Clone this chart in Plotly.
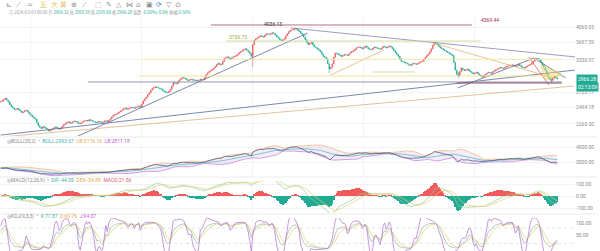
import numpy as np
import pandas as pd
import plotly.graph_objects as go

# ---------------- data ----------------
closes = [
    2590, 2600, 2625, 2640, 2610, 2585, 2540, 2510, 2490, 2470, 2465, 2480, 2460, 2445, 2420, 2430, 2450, 2455, 2430, 2400,
    2385, 2360, 2345, 2330, 2280, 2240, 2215, 2200, 2225, 2215, 2200, 2190, 2165, 2175, 2190, 2200, 2220, 2215, 2200, 2190,
    2205, 2230, 2250, 2265, 2280, 2290, 2270, 2275, 2290, 2300, 2295, 2280, 2265, 2270, 2285, 2295, 2305, 2310, 2300, 2320,
    2310, 2300, 2290, 2285, 2280, 2295, 2290, 2280, 2285, 2300, 2305, 2290, 2310, 2330, 2360, 2380, 2390, 2400, 2415, 2430,
    2445, 2460, 2480, 2490, 2470, 2475, 2490, 2500, 2495, 2485, 2500, 2510, 2520, 2500, 2550, 2600, 2630, 2660, 2700, 2730,
    2770, 2800, 2820, 2830, 2815, 2810, 2800, 2790, 2760, 2750, 2735, 2730, 2750, 2780, 2840, 2900, 2890, 2880, 2910, 2950,
    2975, 2990, 2985, 2970, 2950, 2940, 2955, 2960, 2945, 2950, 2940, 2930, 2945, 2960, 2950, 2955, 3000, 3050, 3080, 3110,
    3125, 3140, 3170, 3200, 3240, 3260, 3230, 3240, 3300, 3360, 3380, 3390, 3360, 3340, 3370, 3390, 3400, 3420, 3450, 3480,
    3500, 3520, 3545, 3560, 3530, 3500, 3460, 3400, 3650, 3750, 3780, 3800, 3830, 3850, 3835, 3820, 3860, 3900, 3890, 3880,
    3900, 3920, 3895, 3870, 3830, 3800, 3760, 3740, 3755, 3780, 3850, 3900, 3950, 3980, 3990, 4000, 4020, 4010, 3980, 3950,
    3910, 3880, 3820, 3760, 3700, 3650, 3680, 3700, 3650, 3600, 3580, 3560, 3530, 3500, 3450, 3400, 3380, 3350, 3250, 3150,
    3180, 3250, 3380, 3470, 3460, 3440, 3420, 3400, 3420, 3440, 3430, 3420, 3450, 3480, 3500, 3520, 3550, 3580, 3590, 3600,
    3580, 3560, 3590, 3620, 3590, 3560, 3545, 3540, 3570, 3600, 3585, 3570, 3560, 3550, 3580, 3610, 3600, 3580, 3600, 3620,
    3600, 3560, 3520, 3480, 3440, 3400, 3350, 3300, 3290, 3280, 3265, 3250, 3230, 3220, 3245, 3260, 3250, 3240, 3260, 3280,
    3290, 3300, 3340, 3380, 3420, 3450, 3500, 3560, 3640, 3700, 3680, 3650, 3610, 3580, 3560, 3540, 3520, 3500, 3480, 3460,
    3440, 3420, 3280, 3130, 3050, 3020, 3100, 3170, 3140, 3120, 3135, 3150, 3120, 3100, 3080, 3060, 3075, 3090, 3060, 3040,
    3020, 3000, 3030, 3050, 3075, 3090, 3080, 3070, 3100, 3120, 3135, 3150, 3165, 3180, 3170, 3160, 3180, 3200, 3210, 3220,
    3225, 3230, 3215, 3200, 3220, 3240, 3215, 3190, 3180, 3170, 3190, 3210, 3225, 3240, 3270, 3300, 3330, 3360, 3350, 3330,
    3280, 3230, 3180, 3120, 3050, 2990, 2960, 2940, 2980, 3010, 2990, 2966.28,
]
first_open = 2580.0
wick_idx = [168, 196, 219, 289, 305, 367]
wick_high = [3650, 4036.13, 3250, 3707, 3100, 2980]
wick_low = [3189, 3980, 3076, 3640, 2984, 2895]

main_ticks = [2260.30, 2494.18, 2732.17, 3330.97, 3697.59, 4060.05]
main_ticktext = ["2260.30", "2494.18", "2732.17", "3330.97", "3697.59", "4060.05"]
last_price = 2966.28
countdown = "02:13:09"

# drawn trend lines (candle index, price)
trend_x0 = [0, 0, 50, 193.4, 288.6, 220, 304.6, 355.4, 352]
trend_p0 = [2114, 2089, 2089, 4036, 3685, 3039, 2809, 3367, 3387]
trend_x1 = [383.4, 382, 204.6, 383.4, 368.6, 255.4, 355.4, 376.6, 365.4]
trend_p1 = [3132, 2842, 3915, 3387, 2984, 3533, 3367, 2984, 2860]
# horizontal levels
level_price = [4110, 3730, 3340, 3021, 2913, 2895, 3094]
level_x0 = [140, 150, 94, 92, 58, 304, 248]
level_x1 = [314, 320, 374, 374, 374, 374, 276]
# shaded triangle
tri_x = [360, 374, 363, 360]
tri_p = [3228, 3057, 2948, 3228]

# ---------------- derived OHLC / indicators ----------------
n = len(closes)
idx = np.arange(n)
c = pd.Series(closes, dtype=float)
o = c.shift(1).fillna(first_open)
h = pd.concat([o, c], axis=1).max(axis=1)
l = pd.concat([o, c], axis=1).min(axis=1)
for i, hh, ll in zip(wick_idx, wick_high, wick_low):
    h[i] = max(h[i], hh)
    l[i] = min(l[i], ll)

mid = c.rolling(20, min_periods=1).mean()
sd = c.rolling(20, min_periods=1).std(ddof=0).fillna(0)
ub = mid + 2 * sd
lb = mid - 2 * sd

ema12 = c.ewm(span=12, adjust=False).mean()
ema26 = c.ewm(span=26, adjust=False).mean()
dif = ema12 - ema26
dea = dif.ewm(span=9, adjust=False).mean()
hist = 2 * (dif - dea)

ll9 = l.rolling(9, min_periods=1).min()
hh9 = h.rolling(9, min_periods=1).max()
rsv = ((c - ll9) / (hh9 - ll9).replace(0, np.nan) * 100).fillna(50)
K = []; D = []
kp, dp = 50.0, 50.0
for r in rsv:
    kp = 2 / 3 * kp + r / 3
    dp = 2 / 3 * dp + kp / 3
    K.append(kp); D.append(dp)
K = np.array(K); D = np.array(D); J = 3 * K - 2 * D

# ---------------- figure ----------------
W, H = 600, 251
def py(px):
    return 1 - px / H

RED = "#ef5a5a"
GRN = "#22ab94"
fig = go.Figure()

fig.add_trace(go.Candlestick(
    x=idx, open=o, high=h, low=l, close=c,
    increasing=dict(line=dict(color=RED, width=0.6), fillcolor=RED),
    decreasing=dict(line=dict(color=GRN, width=0.6), fillcolor=GRN),
    xaxis="x", yaxis="y", showlegend=False, hoverinfo="skip"))

trend_colors = ["#5b6a9a", "#d9b482", "#5b6a9a", "#8088a8", "#e2b37a",
                "#e2b37a", "#5b6a9a", "#5b6a9a", "#e05a5a"]
for x0, p0, x1, p1, col in zip(trend_x0, trend_p0, trend_x1, trend_p1, trend_colors):
    fig.add_trace(go.Scatter(x=[x0, x1], y=[p0, p1], mode="lines",
                             line=dict(color=col, width=0.8),
                             xaxis="x", yaxis="y", showlegend=False, hoverinfo="skip"))
level_colors = ["#b0607a", "#c8d890", "#f3e6a0", "#efe08a", "#8a8aa0", "#7a3a5a", "#bfdcb0"]
for p, x0, x1, col in zip(level_price, level_x0, level_x1, level_colors):
    fig.add_trace(go.Scatter(x=[x0, x1], y=[p, p], mode="lines",
                             line=dict(color=col, width=0.9),
                             xaxis="x", yaxis="y", showlegend=False, hoverinfo="skip"))
fig.add_trace(go.Scatter(x=tri_x, y=tri_p, mode="lines", fill="toself",
                         fillcolor="rgba(240,215,110,0.45)", line=dict(color="#e8c860", width=0.6),
                         xaxis="x", yaxis="y", showlegend=False, hoverinfo="skip"))

# BOLL pane
fig.add_trace(go.Scatter(x=idx, y=ub, mode="lines", line=dict(color="#f0b36a", width=0.7),
                         xaxis="x2", yaxis="y2", showlegend=False, hoverinfo="skip"))
fig.add_trace(go.Scatter(x=idx, y=lb, mode="lines", line=dict(color="#c27ad8", width=0.7),
                         fill="tonexty", fillcolor="rgba(200,150,225,0.18)",
                         xaxis="x2", yaxis="y2", showlegend=False, hoverinfo="skip"))
fig.add_trace(go.Scatter(x=idx, y=mid, mode="lines", line=dict(color="#4fb3b0", width=0.7),
                         xaxis="x2", yaxis="y2", showlegend=False, hoverinfo="skip"))
fig.add_trace(go.Scatter(x=idx, y=c, mode="lines", line=dict(color="#3a4a7a", width=0.7),
                         xaxis="x2", yaxis="y2", showlegend=False, hoverinfo="skip"))

# MACD pane
fig.add_trace(go.Bar(x=idx, y=hist, marker=dict(color=[RED if v >= 0 else GRN for v in hist], line=dict(width=0)),
                     width=1.0, xaxis="x3", yaxis="y3", showlegend=False, hoverinfo="skip"))
fig.add_trace(go.Scatter(x=idx, y=dif, mode="lines", line=dict(color="#8fcf9a", width=0.7),
                         xaxis="x3", yaxis="y3", showlegend=False, hoverinfo="skip"))
fig.add_trace(go.Scatter(x=idx, y=dea, mode="lines", line=dict(color="#e8cf6a", width=0.7),
                         xaxis="x3", yaxis="y3", showlegend=False, hoverinfo="skip"))

# KDJ pane
fig.add_trace(go.Scatter(x=idx, y=K, mode="lines", line=dict(color="#8fb8a8", width=0.7),
                         xaxis="x4", yaxis="y4", showlegend=False, hoverinfo="skip"))
fig.add_trace(go.Scatter(x=idx, y=D, mode="lines", line=dict(color="#e8d070", width=0.7),
                         xaxis="x4", yaxis="y4", showlegend=False, hoverinfo="skip"))
fig.add_trace(go.Scatter(x=idx, y=J, mode="lines", line=dict(color="#b06ac8", width=0.7),
                         xaxis="x4", yaxis="y4", showlegend=False, hoverinfo="skip"))

xr = [-0.5, 382.8]
gridc = "#f3f3f3"
tickf = dict(size=5, color="#8a8a8a", family="Roboto")
def xax(anchor):
    return dict(range=xr, showticklabels=False, showgrid=True, gridcolor=gridc, gridwidth=0.5,
                dtick=74, tick0=20, zeroline=False, showline=False, anchor=anchor,
                domain=[0, 1], rangeslider=dict(visible=False), fixedrange=True)

lt, lb_ = np.log10(4060.05) + 10 * 0.002623, np.log10(4060.05) - 109 * 0.002623
fig.update_layout(
    width=W, height=H, margin=dict(l=0, r=25, t=0, b=0),
    paper_bgcolor="white", plot_bgcolor="white",
    bargap=0,
    xaxis=xax("y"), xaxis2=xax("y2"), xaxis3=xax("y3"), xaxis4=xax("y4"),
    yaxis=dict(type="log", range=[lb_, lt], domain=[py(136), py(17)], side="right",
               tickvals=main_ticks, ticktext=main_ticktext, tickfont=tickf,
               showgrid=True, gridcolor=gridc, gridwidth=0.5, zeroline=False, ticks="", anchor="x"),
    yaxis2=dict(range=[3000 - (176 - 162) * 66.67, 3000 + (162 - 143) * 66.67],
                domain=[py(176), py(143)], side="right", tickvals=[3000, 4000],
                ticktext=["3000.00", "4000.00"], tickfont=tickf, showgrid=True, gridcolor=gridc,
                zeroline=False, anchor="x2"),
    yaxis3=dict(range=[-100 - (213 - 208) * 8.33, 100 + (184 - 181) * 8.33],
                domain=[py(213), py(181)], side="right", tickvals=[-100, 0, 100],
                ticktext=["-100.00", "0.00", "100.00"], tickfont=tickf, showgrid=True, gridcolor=gridc,
                zeroline=False, anchor="x3"),
    yaxis4=dict(range=[-10, 119.7], domain=[0, py(218)], side="right", tickvals=[0, 50, 100],
                ticktext=["0.00", "50.00", "100.00"], tickfont=tickf, showgrid=False,
                zeroline=False, anchor="x4"),
    showlegend=False,
)

shapes = []
for ypx in [137, 177, 214]:
    shapes.append(dict(type="line", xref="paper", yref="paper", x0=0, x1=1.04, y0=py(ypx), y1=py(ypx),
                       line=dict(color="#e6e6e6", width=0.8)))
for lv in [20, 80]:
    shapes.append(dict(type="line", xref="x4", yref="y4", x0=xr[0], x1=xr[1], y0=lv, y1=lv,
                       line=dict(color="#cfcfcf", width=0.6, dash="dot")))
fig.update_layout(shapes=shapes)

ann = []
def A(x, y, text, **kw):
    d = dict(x=x, y=y, text=text, showarrow=False, font=dict(size=5, color="#8a8a8a", family="Roboto"),
             xanchor="left", yanchor="middle")
    d.update(kw)
    ann.append(d)

# toolbar glyphs
glyphs = [("⊾", "#8a8a8a"), ("⟋", "#8a8a8a"), ("═", "#8a8a8a"), ("五", "#e0b84a"), ("大", "#e0b84a"),
          ("算", "#e0b84a"), ("⊕", "#8a8a8a"), ("⟋", "#8a8a8a"), ("⬚", "#8a8a8a"), ("✎", "#8a8a8a"),
          ("△", "#8a8a8a"), ("⋈", "#8a8a8a"), ("⌂", "#8a8a8a"), ("▣", "#8a8a8a"), ("⟳", "#3a8ad8"),
          ("▽", "#8a8a8a"), ("⊙", "#8a8a8a")]
gx = [4, 15, 26, 40, 51, 61, 72, 83, 97, 108, 119, 129, 140, 150, 161, 171, 181]
for (g, col), x in zip(glyphs, gx):
    A(x / W, py(5), g, xref="paper", yref="paper", font=dict(size=7, color=col, family="DejaVu Sans"))

G = "#22ab94"
info = ("⊙ 2024/03/03 08:00 开 <span style='color:%s'>2966.32</span> 高 <span style='color:%s'>2993.38</span>"
        " 低 <span style='color:%s'>2978.00</span> 收 <span style='color:%s'>2966.28</span>"
        " 涨跌 <span style='color:%s'>-0.00%%(-0.04)</span> 振幅 <span style='color:%s'>0.50%%</span>") % ((G,) * 6)
A(0.012, py(13), info, xref="paper", yref="paper",
  font=dict(size=4.2, color="#9a9a9a", family="Noto Sans CJK SC"))

A(0.008, py(141), "◎BOLL(20,2)  •  <span style='color:#3fb0a8'>BOLL:2993.67</span>  "
  "<span style='color:#e8a94a'>UB:3176.16</span>  <span style='color:#c060d0'>LB:2811.18</span>",
  xref="paper", yref="paper")
A(0.008, py(180), "◎MACD(12,26,9)  •  <span style='color:#3fb0a8'>DIF:-44.09</span>  "
  "<span style='color:#e8a94a'>DEA:-54.88</span>  <span style='color:#e05a7a'>MACD:21.56</span>",
  xref="paper", yref="paper")
A(0.008, py(216), "◎KDJ(9,3,3)  •  <span style='color:#3fb0a8'>K:77.87</span>  "
  "<span style='color:#e8a94a'>D:69.76</span>  <span style='color:#c060d0'>J:94.07</span>",
  xref="paper", yref="paper")

# drawing labels on main chart
A(174, np.log10(4140), "4036.13", xref="x", yref="y", font=dict(size=5, color="#333", family="Roboto"))
A(319, np.log10(4230), "4369.44", xref="x", yref="y", font=dict(size=5, color="#a0304a", family="Roboto"))
A(151, np.log10(3820), "3736.73", xref="x", yref="y", font=dict(size=5, color="#9aa83a", family="Roboto"))

# price boxes
A(1.0, np.log10(last_price), "2966.28", xref="paper", yref="y", xanchor="left", xshift=1,
  bgcolor=G, borderpad=1, font=dict(size=5, color="white", family="Roboto"))
A(1.0, np.log10(last_price) - 8 * 0.002623, countdown, xref="paper", yref="y", xanchor="left", xshift=1,
  bgcolor=G, borderpad=1, font=dict(size=5, color="white", family="Roboto"))
fig.update_layout(annotations=ann)

fig.write_html("out.html")
